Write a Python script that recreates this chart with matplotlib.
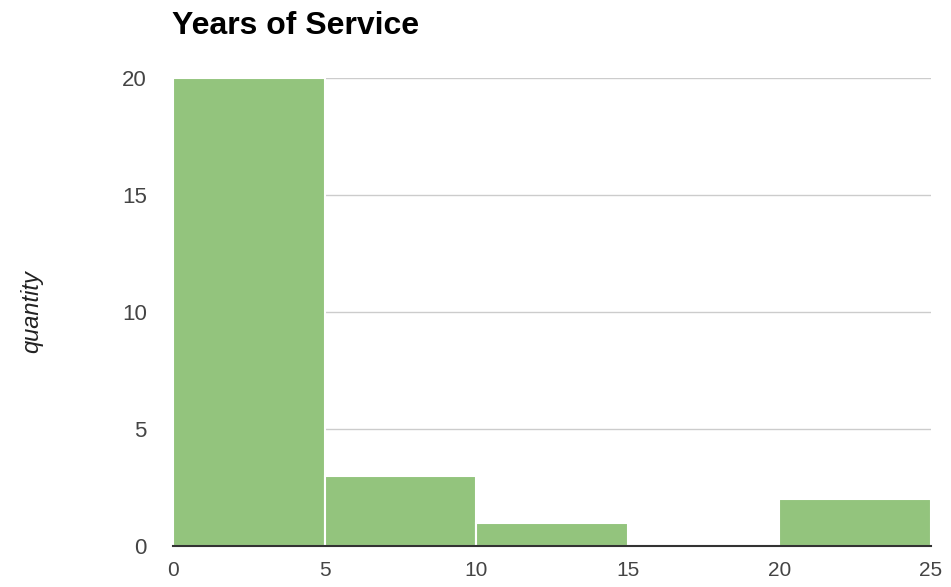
import matplotlib.pyplot as plt

# Histogram data
bin_edges = [0, 5, 10, 15, 20, 25]
counts = [20, 3, 1, 0, 2]
y_ticks = [0, 5, 10, 15, 20]
x_ticks = [0, 5, 10, 15, 20, 25]

plt.rcParams["font.family"] = ["Liberation Sans", "DejaVu Sans"]

fig = plt.figure(figsize=(9.51, 5.87), dpi=100)
ax = fig.add_axes([0.182, 0.070, 0.797, 0.797])

lefts = bin_edges[:-1]
widths = [b - a for a, b in zip(bin_edges[:-1], bin_edges[1:])]
ax.bar(lefts, counts, width=widths, align="edge", color="#93c47d",
       edgecolor="white", linewidth=1.5, zorder=2)

ax.set_xlim(0, 25)
ax.set_ylim(0, 20)
ax.set_xticks(x_ticks)
ax.set_yticks(y_ticks)

# Grid and axis lines
ax.grid(axis="y", color="#cccccc", linewidth=1, zorder=0)
ax.axhline(0, color="#333333", linewidth=1.5, zorder=3, clip_on=False)
for s in ax.spines.values():
    s.set_visible(False)
ax.tick_params(length=0, labelsize=16, colors="#444444")
ax.tick_params(axis="x", pad=11, labelsize=15)
ax.tick_params(axis="y", pad=19)

ax.set_ylabel("quantity", fontsize=17, style="italic", color="#222222")
ax.yaxis.set_label_coords(-0.172, 0.5)
fig.text(0.181, 0.942, "Years of Service", fontsize=23, fontweight="bold",
         color="#000000", ha="left", va="baseline")

fig.savefig("out.png", dpi=100)
